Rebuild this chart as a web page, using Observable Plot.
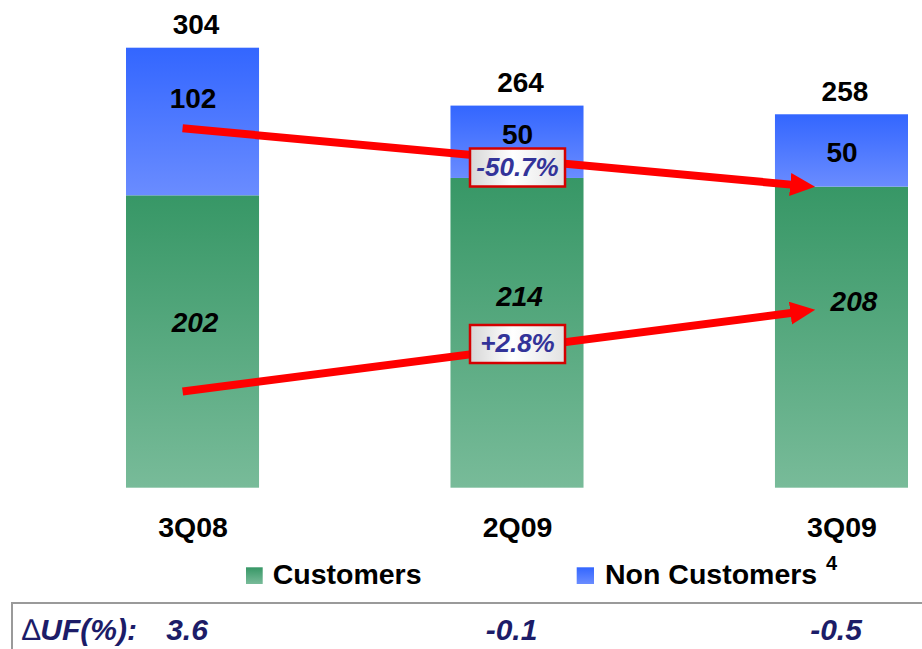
<!DOCTYPE html>
<html>
<head>
<meta charset="utf-8">
<script src="https://cdn.jsdelivr.net/npm/d3@7"></script>
<script src="https://cdn.jsdelivr.net/npm/@observablehq/plot@0.6"></script>
<style>
  html, body { margin: 0; padding: 0; background: #fff; }
  #wrap { position: relative; width: 922px; height: 649px; overflow: hidden; font-family: "Liberation Sans", Arial, sans-serif; }
  #overlay { position: absolute; left: 0; top: 0; pointer-events: none; }
</style>
</head>
<body>
<svg width="0" height="0" style="position:absolute">
  <defs>
    <linearGradient id="gGreen" x1="0" y1="0" x2="0" y2="1">
      <stop offset="0" stop-color="#379766"/>
      <stop offset="1" stop-color="#78bb99"/>
    </linearGradient>
    <linearGradient id="gBlue" x1="0" y1="0" x2="0" y2="1">
      <stop offset="0" stop-color="#3366ff"/>
      <stop offset="1" stop-color="#6a8cff"/>
    </linearGradient>
    <linearGradient id="gBox" x1="0" y1="0" x2="1" y2="0">
      <stop offset="0" stop-color="#d6d6d6"/>
      <stop offset="0.45" stop-color="#ffffff"/>
      <stop offset="1" stop-color="#e2e2e2"/>
    </linearGradient>
    <marker id="head" markerUnits="userSpaceOnUse" markerWidth="26" markerHeight="24" refX="12" refY="11.5" orient="auto">
      <path d="M0,0L25,11.5L0,23Z" fill="#ff0000"/>
    </marker>
  </defs>
</svg>
<div id="wrap"></div>
<script>
// ---- data ----
const quarters = ["3Q08", "2Q09", "3Q09"];
const customers = [202, 214, 208];
const nonCustomers = [102, 50, 50];
const ufChange = ["3.6", "-0.1", "-0.5"];
// label anchor values (in data units)
const nonCustLabelAt = [269, 244, 231.5];
const custLabelAt = [114, 132, 128.5];
// change annotations
const changeLabels = ["-50.7%", "+2.8%"];
const changeLabelAt = [221.6, 99.7];
const arrowFrom = ["3Q08", "3Q08"];
const arrowTo = ["3Q09", "3Q09"];
const arrowStartAt = [248, 67.8];
const arrowEndAt = [206.5, 125.6];
const legendLabels = ["Customers", "Non Customers"];

const rows = quarters.map((q, i) => ({
  q, cust: customers[i], non: nonCustomers[i], total: customers[i] + nonCustomers[i],
  uf: ufChange[i], nonAt: nonCustLabelAt[i], custAt: custLabelAt[i]
}));
const arrows = changeLabels.map((t, i) => ({
  from: arrowFrom[i], to: arrowTo[i], y1: arrowStartAt[i], y2: arrowEndAt[i], label: t, at: changeLabelAt[i], mid: quarters[1]
}));

const boxSymbol = { draw(ctx) { ctx.rect(-47.5, -19, 95, 38); } };
const FONT = '"Liberation Sans", Arial, Helvetica, sans-serif';

const chart = Plot.plot({
  width: 922,
  height: 649,
  marginTop: 0, marginBottom: 161.3, marginLeft: 0, marginRight: 0,
  style: { fontFamily: FONT, background: "transparent", color: "#000", overflow: "visible" },
  x: { type: "band", domain: quarters, range: [126, 908], paddingInner: 0.59, paddingOuter: 0, round: false, label: null },
  y: { domain: [0, 304], range: [487.7, 47.7], axis: null },
  marks: [
    Plot.barY(rows, { x: "q", y1: 0, y2: "cust", fill: "url(#gGreen)" }),
    Plot.barY(rows, { x: "q", y1: "cust", y2: "total", fill: "url(#gBlue)" }),
    Plot.axisX({ tickSize: 0, tickPadding: 29, fontSize: 28.5, fontWeight: "bold", label: null }),
    Plot.arrow(arrows, { x1: "from", x2: "to", y1: "y1", y2: "y2", stroke: "#ff0000", strokeWidth: 8, strokeLinecap: "butt", headLength: 0, insetStart: -10.5, insetEnd: 40 }),
    Plot.dot(arrows, { x: "mid", y: "at", symbol: boxSymbol, fill: "url(#gBox)", stroke: "#d40000", strokeWidth: 2.5 }),
    Plot.text(arrows, { x: "mid", y: "at", text: "label", fontSize: 26, fontWeight: "bold", fontStyle: "italic", fill: "#333399" }),
    Plot.text(rows, { x: "q", y: "total", text: d => String(d.total), dy: -23, dx: 3, fontSize: 28, fontWeight: "bold", fill: "#000" }),
    Plot.text(rows, { x: "q", y: "nonAt", text: "non", fontSize: 28, fontWeight: "bold", fill: "#000" }),
    Plot.text(rows.slice(0, 2), { x: "q", y: "custAt", text: "cust", dx: 2, fontSize: 28, fontWeight: "bold", fontStyle: "italic", fill: "#000" }),
    Plot.text(rows.slice(2), { x: "q", y: "custAt", text: "cust", dx: 12, fontSize: 28, fontWeight: "bold", fontStyle: "italic", fill: "#000" }),
    Plot.text(rows, { x: "q", text: "uf", frameAnchor: "bottom", lineAnchor: "middle", dy: 142, dx: -6, fontSize: 30, fontWeight: "bold", fontStyle: "italic", fill: "#1c1c68" })
  ]
});

chart.querySelectorAll('g[aria-label="arrow"] path').forEach(p => {
  p.setAttribute("marker-end", "url(#head)");
  p.setAttribute("stroke-linecap", "butt");
});

const wrap = document.getElementById("wrap");
wrap.appendChild(chart);

// legend + ΔUF row frame (outside the plot area)
const ns = "http://www.w3.org/2000/svg";
const ov = document.createElementNS(ns, "svg");
ov.setAttribute("id", "overlay");
ov.setAttribute("width", 922);
ov.setAttribute("height", 649);
ov.innerHTML = `
  <rect x="246" y="567.3" width="16.7" height="16.7" fill="url(#gGreen)"/>
  <text x="272.7" y="584.3" font-family='${FONT}' font-size="28.5" font-weight="bold">${legendLabels[0]}</text>
  <rect x="576.7" y="567.3" width="17.3" height="16.7" fill="url(#gBlue)"/>
  <text x="605" y="584.3" font-family='${FONT}' font-size="28.5" font-weight="bold">${legendLabels[1]}</text>
  <text x="826" y="570" font-family='${FONT}' font-size="20" font-weight="bold">4</text>
  <rect x="12" y="603" width="940" height="80" fill="none" stroke="#9a9a9a" stroke-width="2"/>
  <text x="22" y="640" font-family='${FONT}' font-size="30" font-weight="bold" font-style="italic" fill="#1c1c68"><tspan font-style="normal" font-weight="normal">∆</tspan>UF(%):</text>
`;
wrap.appendChild(ov);
</script>
</body>
</html>
